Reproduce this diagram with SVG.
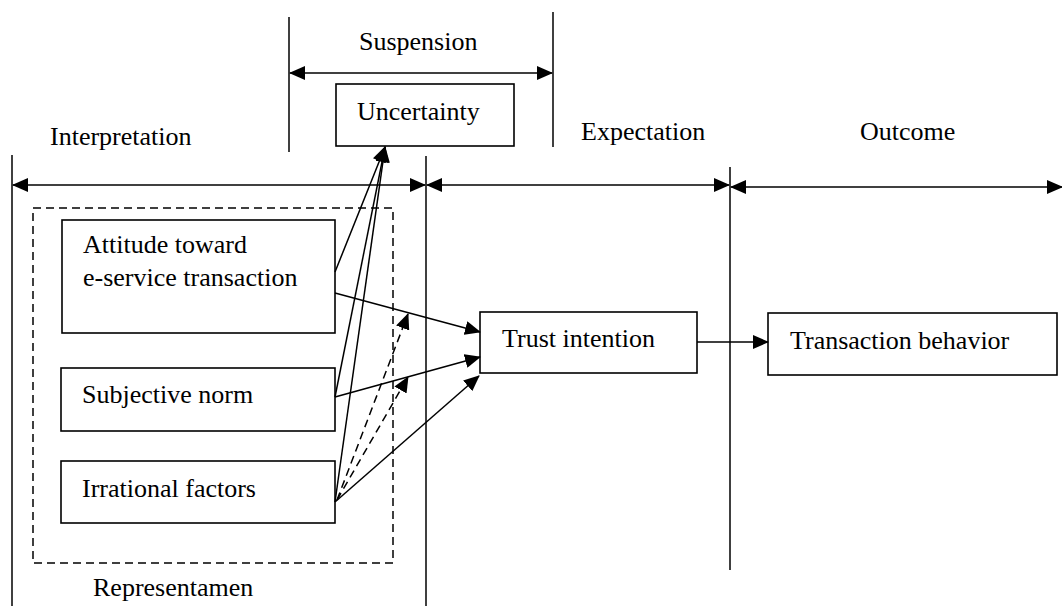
<svg xmlns="http://www.w3.org/2000/svg" width="1062" height="606" viewBox="0 0 1062 606">
<style>
text{font-family:"Liberation Serif","Times New Roman",serif;font-size:26px;fill:#000}
.box{fill:#fff;stroke:#000;stroke-width:1.6}
.ln{stroke:#000;stroke-width:1.5;fill:none}
.dash{stroke:#000;stroke-width:1.5;fill:none;stroke-dasharray:8 5}
</style>
<defs>
<marker id="ah" markerUnits="userSpaceOnUse" markerWidth="16" markerHeight="14" refX="15" refY="7" orient="auto-start-reverse" viewBox="0 0 16 14">
<path d="M0,0 L16,7 L0,14 z" fill="#000"/>
</marker>
</defs>
<rect width="1062" height="606" fill="#fff"/>
<g id="phases">
<line class="ln" x1="12" y1="155" x2="12" y2="606"/>
<line class="ln" x1="426" y1="156" x2="426" y2="606"/>
<line class="ln" x1="730" y1="167" x2="730" y2="570"/>
<line class="ln" x1="289" y1="17" x2="289" y2="152"/>
<line class="ln" x1="553" y1="12" x2="553" y2="147"/>
<line class="ln" x1="13" y1="185" x2="425" y2="185" marker-start="url(#ah)" marker-end="url(#ah)"/>
<line class="ln" x1="427" y1="185" x2="729" y2="185" marker-start="url(#ah)" marker-end="url(#ah)"/>
<line class="ln" x1="731" y1="187" x2="1062" y2="187" marker-start="url(#ah)" marker-end="url(#ah)"/>
<line class="ln" x1="290" y1="73" x2="552" y2="73" marker-start="url(#ah)" marker-end="url(#ah)"/>
<text x="359" y="50">Suspension</text>
<text x="50" y="145">Interpretation</text>
<text x="581" y="140">Expectation</text>
<text x="860" y="140">Outcome</text>
</g>
<g id="representamen">
<rect class="dash" x="33" y="208" width="360" height="355"/>
<text x="93" y="596">Representamen</text>
</g>
<g id="uncertainty">
<rect class="box" x="336" y="84" width="178" height="62"/>
<text x="357" y="120">Uncertainty</text>
</g>
<g id="attitude">
<rect class="box" x="62" y="220" width="273" height="113"/>
<text x="83" y="253">Attitude toward</text>
<text x="83" y="286">e-service transaction</text>
</g>
<g id="subjective">
<rect class="box" x="61" y="368" width="274" height="63"/>
<text x="82" y="403">Subjective norm</text>
</g>
<g id="irrational">
<rect class="box" x="61" y="461" width="274" height="62"/>
<text x="82" y="497">Irrational factors</text>
</g>
<g id="trust">
<rect class="box" x="480" y="312" width="217" height="61"/>
<text x="502" y="347">Trust intention</text>
</g>
<g id="behavior">
<rect class="box" x="768" y="313" width="289" height="62"/>
<text x="790" y="349">Transaction behavior</text>
</g>
<g id="connectors">
<line class="ln" x1="335" y1="272" x2="385" y2="147" marker-end="url(#ah)"/>
<line class="ln" x1="335" y1="397" x2="385" y2="147" marker-end="url(#ah)"/>
<line class="ln" x1="335" y1="502" x2="385" y2="147" marker-end="url(#ah)"/>
<line class="ln" x1="335" y1="293" x2="480" y2="332" marker-end="url(#ah)"/>
<line class="ln" x1="335" y1="397" x2="480" y2="357" marker-end="url(#ah)"/>
<line class="ln" x1="335" y1="502" x2="479" y2="376" marker-end="url(#ah)"/>
<line class="dash" x1="337" y1="500" x2="408" y2="314" marker-end="url(#ah)"/>
<line class="dash" x1="337" y1="500" x2="408" y2="377" marker-end="url(#ah)"/>
<line class="ln" x1="697" y1="342" x2="768" y2="342" marker-end="url(#ah)"/>
</g>
</svg>
